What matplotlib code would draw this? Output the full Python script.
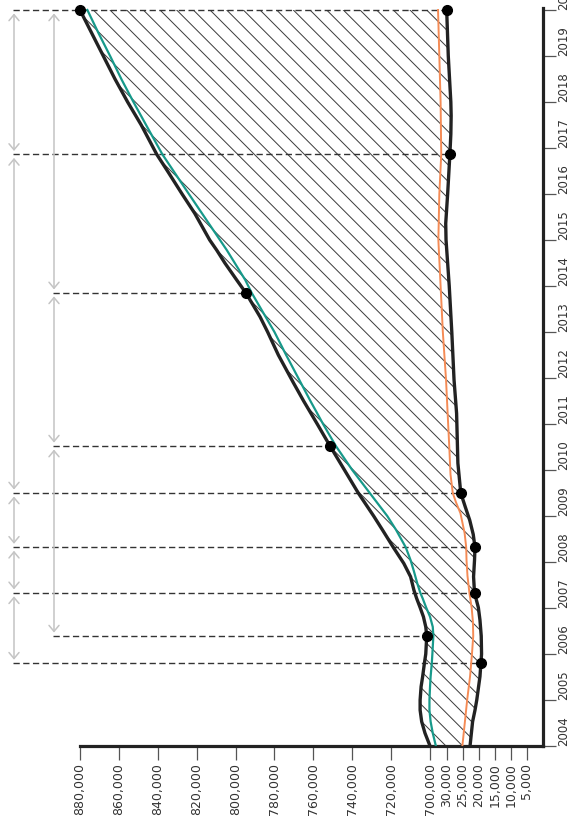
import numpy as np
import matplotlib
matplotlib.use('Agg')
import matplotlib.pyplot as plt

plt.rcParams['font.family'] = ['Liberation Sans Narrow', 'DejaVu Sans']
plt.rcParams['hatch.linewidth'] = 0.7

# ---------------- data ----------------
upper_years = [2004.0, 2004.28, 2004.53, 2004.78, 2005.0, 2005.29, 2005.51, 2005.8, 2006.0,
               2006.39, 2006.59, 2006.81, 2007.01, 2007.21, 2007.39, 2007.68, 2007.97,
               2008.32, 2008.7, 2009.0, 2009.5, 2010.0, 2010.52, 2011.0, 2011.5, 2011.9,
               2012.5, 2013.0, 2013.33, 2013.85, 2014.13, 2014.5, 2014.78, 2015.0, 2015.58,
               2016.0, 2016.5, 2016.86, 2017.5, 2018.0, 2018.5, 2019.0, 2019.5, 2020.0]
upper_vals = [700000, 702600, 704300, 705100, 705100, 704600, 703800, 702900, 702200,
              701700, 702200, 703400, 705100, 706900, 708300, 710000, 713500,
              718900, 724500, 729000, 736900, 744000, 751400, 758000, 765000, 770300,
              778000, 783500, 787400, 794700, 799400, 805500, 809700, 813300, 821000,
              827500, 835000, 840500, 848500, 855500, 862000, 868000, 874000, 880000]

teal_years = [2004.0, 2004.28, 2004.53, 2004.78, 2005.0, 2005.29, 2005.51, 2005.8, 2006.0,
              2006.39, 2006.59, 2006.81, 2007.01, 2007.21, 2007.33, 2007.54, 2007.8, 2008.04,
              2008.32, 2008.7, 2009.0, 2009.5, 2010.0, 2010.52, 2011.0, 2011.5, 2011.9,
              2012.5, 2013.0, 2013.85, 2014.13, 2014.78, 2015.5, 2016.0, 2016.86, 2017.5,
              2018.0, 2018.48, 2019.0, 2019.5, 2020.0]
teal_vals = [696600, 698600, 699700, 700300, 700300, 700000, 699700, 699100, 698800,
             698300, 698600, 700000, 702000, 703800, 705000, 706600, 708300, 710000,
             712500, 717500, 722000, 731000, 740000, 748400, 755000, 761500, 766500,
             774000, 780000, 791700, 795000, 804500, 816000, 824000, 837600, 846000,
             852500, 858500, 864500, 870500, 876200]

lower_years = [2004.0, 2004.53, 2004.78, 2005.0, 2005.51, 2005.8, 2006.0, 2006.39, 2006.74,
               2007.01, 2007.33, 2007.68, 2008.04, 2008.32, 2008.6, 2008.91, 2009.2, 2009.5,
               2010.15, 2011.23, 2011.96, 2013.0, 2014.0, 2015.0, 2015.36, 2016.0, 2016.86,
               2017.3, 2017.7, 2018.0, 2019.0, 2020.0]
lower_vals = [22800, 22000, 21250, 20700, 19700, 19400, 19200, 19300, 19700,
              20200, 21400, 21700, 21400, 21250, 21800, 22900, 24300, 25700,
              26600, 27000, 27800, 28500, 29300, 30300, 30400, 29800, 29100,
              28800, 28700, 28800, 29600, 30100]

orange_years = [2004.0, 2004.53, 2005.0, 2005.51, 2006.0, 2006.39, 2006.7, 2007.01, 2007.33,
                2007.7, 2008.04, 2008.32, 2008.63, 2009.06, 2009.3, 2009.5, 2009.9, 2010.52,
                2011.23, 2011.96, 2013.0, 2014.0, 2015.0, 2016.0, 2016.86, 2018.0, 2019.0,
                2020.0]
orange_vals = [25200, 24400, 23700, 22800, 22200, 21800, 21900, 22300, 23000,
               23600, 23900, 24000, 24500, 25800, 27200, 28200, 28900, 29300,
               29800, 30300, 31300, 32000, 32700, 32400, 31800, 32000, 32400,
               32800]

# event markers
upper_event_years = [2006.39, 2010.52, 2013.85, 2020.0]
upper_event_vals = [701700, 751400, 794700, 880000]
lower_event_years = [2005.8, 2007.33, 2008.32, 2009.5, 2016.86, 2020.0]
lower_event_vals = [19400, 21400, 21250, 25700, 29100, 30100]

year_ticks = list(range(2004, 2021))
value_ticks = [5000, 10000, 15000, 20000, 25000, 30000,
               700000, 720000, 740000, 760000, 780000, 800000,
               820000, 840000, 860000, 880000]

# ---------------- broken value scale ----------------
BV = np.array([0.0, 33000.0, 697000.0, 1000000.0])
BU = np.array([0.0, 6.6, 7.06 - 3000 / 8227, 7.06 + 300000 / 8227])


def fwd(v):
    return np.interp(v, BV, BU)


def inv(u):
    return np.interp(u, BU, BV)


# ---------------- figure ----------------
W, H = 569, 816
fig = plt.figure(figsize=(W / 100, H / 100), dpi=100)
ax = fig.add_axes([0, 70 / H, 543 / W, 738 / H])
ax.set_xscale('function', functions=(fwd, inv))
x_left = inv(543 / 16)
ax.set_xlim(x_left, 0)
ymax = 2004 + 738 / 46
ax.set_ylim(2004, ymax)

col1 = inv((543 - 13) / 16)
col2 = inv((543 - 53) / 16)
arr1 = inv((543 - 14) / 16)
arr2 = inv((543 - 54) / 16)

# hatched area between the two black lines
poly_x = np.concatenate([upper_vals, lower_vals[::-1]])
poly_y = np.concatenate([upper_years, lower_years[::-1]])
ax.fill(poly_x, poly_y, facecolor='none', edgecolor='#3a3a3a', linewidth=0,
        hatch='\\\\', zorder=1)

# dashed guide lines
dash = (0, (4.5, 2.5))
for y, v in zip(upper_event_years[:-1], upper_event_vals[:-1]):
    ax.hlines(y, col2, v, colors='#333333', linestyles=[dash], linewidth=1.0, zorder=2)
for y, v in zip(lower_event_years, lower_event_vals):
    ax.hlines(y, col1, v, colors='#333333', linestyles=[dash], linewidth=1.0, zorder=2,
              clip_on=False)

# gray arrows
col1_events = lower_event_years
col2_events = upper_event_years
aprops = dict(arrowstyle='<->,head_length=0.36,head_width=0.3', color='#c4c4c4',
              lw=1.1, shrinkA=2.5, shrinkB=2.5, mutation_scale=12)
for a, b in zip(col1_events[:-1], col1_events[1:]):
    ax.annotate('', xy=(arr1, b), xytext=(arr1, a), arrowprops=aprops,
                annotation_clip=False)
for a, b in zip(col2_events[:-1], col2_events[1:]):
    ax.annotate('', xy=(arr2, b), xytext=(arr2, a), arrowprops=aprops,
                annotation_clip=False)

# series lines
ax.plot(teal_vals, teal_years, color='#17998a', lw=1.6, zorder=3,
        solid_joinstyle='round')
ax.plot(orange_vals, orange_years, color='#f58b55', lw=1.4, zorder=3,
        solid_joinstyle='round')
ax.plot(upper_vals, upper_years, color='#222222', lw=2.4, zorder=4,
        solid_joinstyle='round')
ax.plot(lower_vals, lower_years, color='#222222', lw=2.4, zorder=4,
        solid_joinstyle='round')

ax.plot(upper_event_vals, upper_event_years, 'o', color='black', ms=7, zorder=5,
        clip_on=False)
ax.plot(lower_event_vals, lower_event_years, 'o', color='black', ms=7, zorder=5,
        clip_on=False)

# axes styling
for s in ['left', 'top']:
    ax.spines[s].set_visible(False)
for s in ['right', 'bottom']:
    ax.spines[s].set_linewidth(2.3)
    ax.spines[s].set_color('#222222')
ax.spines['bottom'].set_bounds(880000, 0)

ax.set_xticks(value_ticks)
ax.set_xticklabels([f'{v:,}' for v in value_ticks])
ax.tick_params(axis='x', direction='out', length=10, width=0.9, color='#555555',
               labelrotation=90, labelsize=9, labelcolor='#333333', pad=2)

ax.yaxis.tick_right()
ax.set_yticks(year_ticks)
ax.set_yticklabels([str(y) for y in year_ticks])
ax.tick_params(axis='y', direction='out', length=9.5, width=0.9, color='#555555',
               labelrotation=90, labelsize=8.5, labelcolor='#333333', pad=0.5)
for lbl in ax.get_yticklabels():
    lbl.set_verticalalignment('bottom')
    lbl.set_horizontalalignment('left')

fig.savefig('out.png', dpi=100)
